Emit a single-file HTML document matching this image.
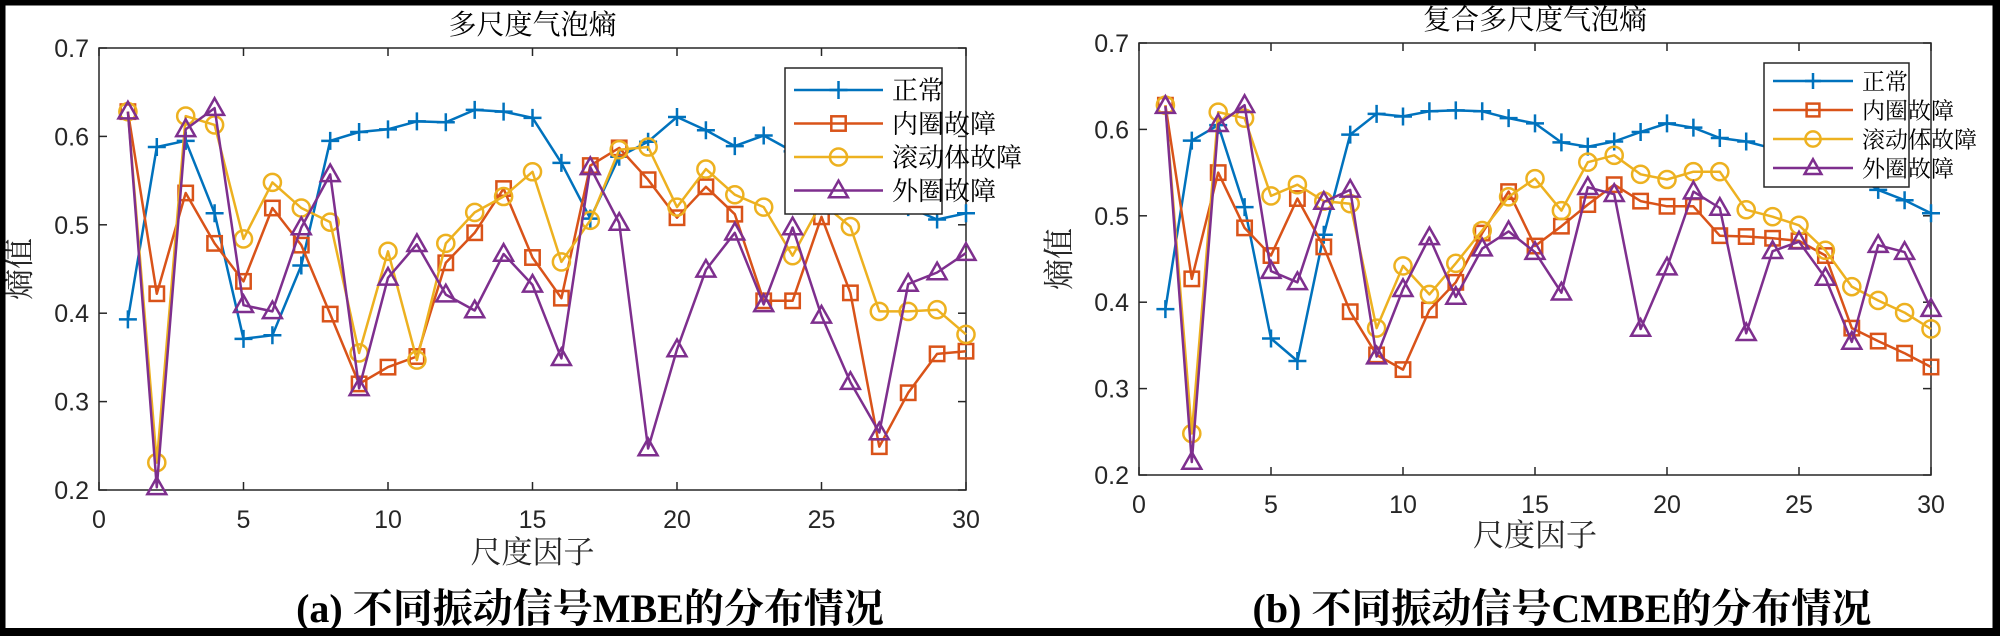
<!DOCTYPE html>
<html><head><meta charset="utf-8"><style>
html,body{margin:0;padding:0;background:#fff;}
#wrap{position:relative;width:2000px;height:636px;overflow:hidden;background:#fff;}
svg text{font-family:"Liberation Sans","Noto Sans CJK SC",sans-serif;}
svg text.cjk{font-family:"Liberation Serif","Noto Serif CJK SC",serif;}
</style></head><body>
<div id="wrap">
<svg id="svg" width="2000" height="636" viewBox="0 0 2000 636" xmlns="http://www.w3.org/2000/svg"></svg>
</div>
<script>
const scales = [1,2,3,4,5,6,7,8,9,10,11,12,13,14,15,16,17,18,19,20,21,22,23,24,25,26,27,28,29,30];
const seriesNames = ["正常","内圈故障","滚动体故障","外圈故障"];
const xTicks = [0,5,10,15,20,25,30];
const yTicks = [0.2,0.3,0.4,0.5,0.6,0.7];
const mbeNormal = [0.393,0.588,0.595,0.513,0.371,0.375,0.454,0.595,0.605,0.608,0.617,0.616,0.630,0.628,0.621,0.570,0.507,0.577,0.594,0.622,0.607,0.589,0.601,0.583,0.575,0.560,0.540,0.520,0.506,0.513];
const mbeInner = [0.628,0.422,0.536,0.479,0.436,0.519,0.477,0.399,0.320,0.339,0.351,0.457,0.491,0.541,0.463,0.417,0.567,0.587,0.551,0.508,0.543,0.512,0.414,0.414,0.509,0.423,0.249,0.310,0.354,0.357];
const mbeBall = [0.628,0.231,0.623,0.613,0.484,0.548,0.519,0.503,0.355,0.470,0.347,0.479,0.514,0.532,0.560,0.458,0.505,0.585,0.588,0.520,0.563,0.534,0.520,0.465,0.525,0.498,0.402,0.402,0.404,0.376];
const mbeOuter = [0.628,0.203,0.608,0.632,0.409,0.402,0.497,0.557,0.315,0.440,0.478,0.421,0.403,0.467,0.432,0.349,0.565,0.502,0.247,0.359,0.449,0.491,0.410,0.497,0.397,0.322,0.265,0.433,0.446,0.468];
const cmbeNormal = [0.392,0.587,0.605,0.510,0.358,0.332,0.478,0.594,0.618,0.615,0.621,0.622,0.621,0.613,0.607,0.585,0.580,0.586,0.597,0.607,0.602,0.590,0.586,0.578,0.570,0.560,0.550,0.530,0.518,0.503];
const cmbeInner = [0.628,0.427,0.550,0.486,0.454,0.520,0.464,0.389,0.339,0.322,0.391,0.423,0.480,0.528,0.465,0.488,0.513,0.536,0.517,0.511,0.511,0.477,0.476,0.474,0.471,0.454,0.370,0.355,0.341,0.325];
const cmbeBall = [0.628,0.248,0.620,0.613,0.523,0.536,0.517,0.514,0.370,0.442,0.409,0.445,0.483,0.522,0.543,0.506,0.562,0.570,0.548,0.542,0.551,0.551,0.507,0.499,0.489,0.460,0.418,0.402,0.388,0.369];
const cmbeOuter = [0.627,0.215,0.606,0.628,0.436,0.423,0.516,0.530,0.337,0.415,0.475,0.406,0.462,0.482,0.458,0.411,0.533,0.525,0.369,0.440,0.528,0.509,0.364,0.459,0.470,0.428,0.354,0.466,0.458,0.392];

const colors = ["#0072BD","#D95319","#EDB120","#7E2F8E"];
const markers = ["plus","square","circle","triangle"];
const NS = "http://www.w3.org/2000/svg";
const svg = document.getElementById("svg");
function mk(tag, attrs, parent){
  const e = document.createElementNS(NS, tag);
  for (const k in attrs) e.setAttribute(k, attrs[k]);
  (parent||svg).appendChild(e);
  return e;
}
function marker(g, type, x, y, c, s){
  let m;
  if (type==="plus") m = mk("path",{d:`M${x-s} ${y}H${x+s}M${x} ${y-s}V${y+s}`,stroke:c,"stroke-width":2.5,fill:"none"},g);
  else if (type==="square") m = mk("rect",{x:x-s*0.8,y:y-s*0.8,width:s*1.6,height:s*1.6,stroke:c,"stroke-width":2.5,fill:"none"},g);
  else if (type==="circle") m = mk("circle",{cx:x,cy:y,r:s*0.95,stroke:c,"stroke-width":2.5,fill:"none"},g);
  else m = mk("path",{d:`M${x} ${y-s*1.1}L${x+s*1.05} ${y+s*0.75}L${x-s*1.05} ${y+s*0.75}Z`,stroke:c,"stroke-width":2.5,fill:"none"},g);
  return m;
}

function panel(cfg){
  const {L,R,T,B,series,title,caption,id,leg} = cfg;
  const xs = v => L + (v-0)/(30-0)*(R-L);
  const ys = v => B - (v-0.2)/(0.7-0.2)*(B-T);
  const g = mk("g",{});
  
  
  const box = mk("rect",{x:L,y:T,width:R-L,height:B-T,fill:"#fff",stroke:"#262626","stroke-width":1.5},g);
  
  
  xTicks.forEach(t=>{
    const x = xs(t);
    mk("line",{x1:x,x2:x,y1:B,y2:B-8,stroke:"#262626","stroke-width":1.5},g);
    mk("line",{x1:x,x2:x,y1:T,y2:T+8,stroke:"#262626","stroke-width":1.5},g);
    const tx = mk("text",{x:x,y:B+38,"font-size":25,"text-anchor":"middle",fill:"#262626"},g);
    tx.textContent = t;
    
    
  });
  yTicks.forEach(t=>{
    const y = ys(t);
    mk("line",{x1:L,x2:L+8,y1:y,y2:y,stroke:"#262626","stroke-width":1.5},g);
    mk("line",{x1:R,x2:R-8,y1:y,y2:y,stroke:"#262626","stroke-width":1.5},g);
    const tx = mk("text",{x:L-10,y:y+9,"font-size":25,"text-anchor":"end",fill:"#262626"},g);
    tx.textContent = t.toFixed(1);
    
    
  });
  series.forEach((vals,si)=>{
    const sg = mk("g",{},g);
    
    
    const pts = vals.map((v,i)=>xs(scales[i]).toFixed(1)+","+ys(v).toFixed(1)).join(" ");
    const pl = mk("polyline",{points:pts,fill:"none",stroke:colors[si],"stroke-width":2.5,"stroke-linejoin":"round"},sg);
    
    
    vals.forEach((v,i)=>{
      const m = marker(sg, markers[si], xs(scales[i]), ys(v), colors[si], 9);
      
      
    });
  });
  const lg = mk("g",{},g);
  
  
  mk("rect",{x:leg.x,y:leg.y,width:leg.w,height:leg.h,fill:"#fff",stroke:"#262626","stroke-width":1.5},lg);
  seriesNames.forEach((n,si)=>{
    const ry = leg.y + leg.row0 + si*leg.dy;
    const e = mk("g",{},lg);
    
    
    mk("line",{x1:leg.x+9,x2:leg.x+leg.lineW,y1:ry,y2:ry,stroke:colors[si],"stroke-width":2.5},e);
    marker(e, markers[si], leg.x+9+(leg.lineW-9)/2, ry, colors[si], leg.ms);
    const tx = mk("text",{x:leg.tx,y:ry+leg.fs*0.36,"font-size":leg.fs,fill:"#000","class":"cjk"},e);
    tx.textContent = n;
  });
  const tt = mk("text",{x:(L+R)/2,y:T-14,"font-size":28,"text-anchor":"middle",fill:"#000","class":"cjk"},g);
  tt.textContent = title;
  
  
  const xl = mk("text",{x:(L+R)/2,y:cfg.xlY,"font-size":31,"text-anchor":"middle",fill:"#262626","class":"cjk"},g);
  xl.textContent = "尺度因子";
  
  
  const yl = mk("text",{x:0,y:0,"font-size":31,"text-anchor":"middle",fill:"#262626","class":"cjk",transform:`translate(${cfg.ylX},${(T+B)/2}) rotate(-90)`},g);
  yl.textContent = "熵值";
  
  
  const cp = mk("text",{x:cfg.capX,y:622,"font-size":40,"font-weight":"bold","text-anchor":"middle",fill:"#000",style:'font-family:"Liberation Serif","Noto Serif CJK SC",serif'},g);
  cp.textContent = caption;
  
  
}

panel({id:"mbe",L:99,R:966,T:48,B:490,series:[mbeNormal,mbeInner,mbeBall,mbeOuter],
  title:"多尺度气泡熵",caption:"(a) 不同振动信号MBE的分布情况",xlY:563,ylX:30,capX:590,
  leg:{x:785,y:68,w:157,h:146,row0:22,dy:33.5,lineW:98,tx:892,fs:26,ms:9}});
panel({id:"cmbe",L:1139,R:1931,T:43,B:475,series:[cmbeNormal,cmbeInner,cmbeBall,cmbeOuter],
  title:"复合多尺度气泡熵",caption:"(b) 不同振动信号CMBE的分布情况",xlY:546,ylX:1070,capX:1562,
  leg:{x:1764,y:63,w:145,h:124,row0:18,dy:29,lineW:89,tx:1862,fs:23,ms:8}});

const fr = mk("rect",{x:2.5,y:2.5,width:1993,height:629,fill:"none",stroke:"#000","stroke-width":6});


mk("rect",{x:0,y:628,width:2000,height:8,fill:"#000"});
mk("rect",{x:1993,y:0,width:7,height:636,fill:"#000"});
</script>
</body></html>
